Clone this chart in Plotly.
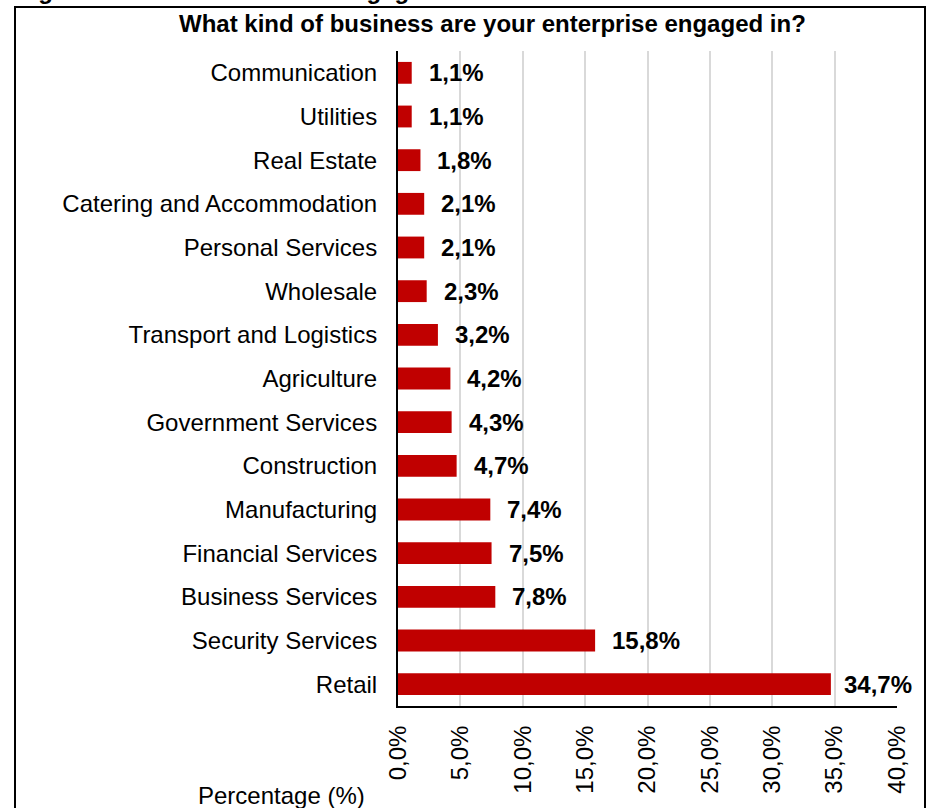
import plotly.graph_objects as go

categories = ["Communication", "Utilities", "Real Estate", "Catering and Accommodation",
              "Personal Services", "Wholesale", "Transport and Logistics", "Agriculture",
              "Government Services", "Construction", "Manufacturing", "Financial Services",
              "Business Services", "Security Services", "Retail"]
values = [1.1, 1.1, 1.8, 2.1, 2.1, 2.3, 3.2, 4.2, 4.3, 4.7, 7.4, 7.5, 7.8, 15.8, 34.7]
x_tick_vals = [0, 5, 10, 15, 20, 25, 30, 35, 40]
x_tick_text = ["0,0%", "5,0%", "10,0%", "15,0%", "20,0%", "25,0%", "30,0%", "35,0%", "40,0%"]

FONT = "Arial, Liberation Sans, sans-serif"
BAR = "#C00000"

W, H = 930, 808
L, R, T, B = 398, 33, 51, 102
pw, ph = W - L - R, H - T - B


def px(xp):
    return (xp - L) / pw


def py(yp):
    return (H - B - yp) / ph


fig = go.Figure(go.Bar(
    x=values, y=categories, orientation="h",
    marker=dict(color=BAR, line=dict(width=0)),
    hoverinfo="skip",
))

vmax = max(values)
for v, c in zip(values, categories):
    fig.add_annotation(
        x=v, y=c, xref="x", yref="y", xanchor="left", yanchor="middle",
        text="<b>" + f"{v:.1f}".replace(".", ",") + "%</b>",
        showarrow=False, xshift=11 if v == vmax else 15,
        font=dict(family=FONT, size=24, color="black"),
    )

fig.add_annotation(
    x=px(492), y=py(23), xref="paper", yref="paper", xanchor="center", yanchor="middle",
    text="<b>What kind of business are your enterprise engaged in?</b>", showarrow=False,
    font=dict(family=FONT, size=24, color="black"),
)
fig.add_annotation(
    x=px(281), y=py(795), xref="paper", yref="paper", xanchor="center", yanchor="middle",
    text="Percentage (%)", showarrow=False,
    font=dict(family=FONT, size=24, color="black"),
)
fig.add_annotation(
    x=px(15), y=py(6), xref="paper", yref="paper", xanchor="left", yanchor="bottom",
    text="<b>Figure 10: Kind of business engaged</b>", showarrow=False,
    font=dict(family=FONT, size=24, color="black"),
)

fig.add_shape(type="rect", xref="paper", yref="paper",
              x0=px(15), x1=px(925), y0=py(830), y1=py(7),
              line=dict(color="black", width=2), fillcolor="rgba(0,0,0,0)", layer="above")

fig.update_layout(
    width=W, height=H,
    margin=dict(l=L, r=R, t=T, b=B, pad=0),
    paper_bgcolor="white", plot_bgcolor="white",
    showlegend=False, bargap=0.5,
    font=dict(family=FONT, size=24, color="black"),
    xaxis=dict(range=[0, 40], tickvals=x_tick_vals, ticktext=x_tick_text,
               tickangle=-90, showgrid=True, gridcolor="#D9D9D9", gridwidth=1.5,
               showline=True, linecolor="black", linewidth=2, zeroline=False,
               ticks="", ticklabelstandoff=8,
               tickfont=dict(family=FONT, size=24, color="black"), fixedrange=True),
    yaxis=dict(autorange="reversed", showgrid=False, showline=True, linecolor="black",
               linewidth=2, ticks="", ticklabelstandoff=14,
               tickfont=dict(family=FONT, size=24, color="black"), fixedrange=True),
)

fig.write_html("out.html", config={"displayModeBar": False},
               post_script="document.body.style.margin='0';document.body.style.overflow='hidden';")
